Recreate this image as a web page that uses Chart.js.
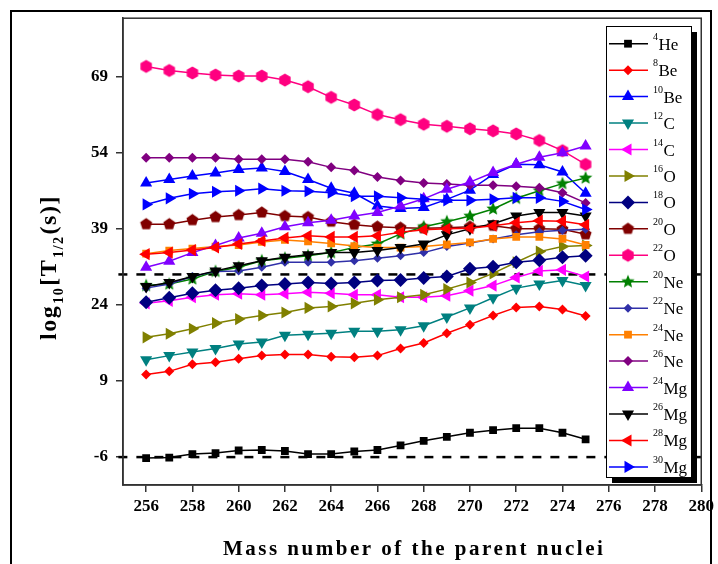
<!DOCTYPE html>
<html>
<head>
<meta charset="utf-8">
<script src="https://cdn.jsdelivr.net/npm/chart.js@4.4.1/dist/chart.umd.min.js"></script>
<style>
  html, body { margin: 0; padding: 0; background: #fff; }
  #wrap { width: 718px; height: 564px; position: relative; }
</style>
</head>
<body>
<div id="wrap"><canvas id="chart"></canvas></div>
<script>
// ---- data ----
const masses = [256, 257, 258, 259, 260, 261, 262, 263, 264, 265, 266, 267, 268, 269, 270, 271, 272, 273, 274, 275];
const xTicks = [256, 258, 260, 262, 264, 266, 268, 270, 272, 274, 276, 278, 280];
const yTicks = [-6, 9, 24, 39, 54, 69];

const he4  = [-6.2, -6.1, -5.4, -5.2, -4.7, -4.6, -4.8, -5.4, -5.4, -4.9, -4.6, -3.7, -2.8, -2.0, -1.2, -0.7, -0.3, -0.3, -1.2, -2.5];
const be8  = [10.3, 10.9, 12.3, 12.7, 13.4, 14.0, 14.2, 14.2, 13.8, 13.7, 14.0, 15.4, 16.5, 18.4, 20.1, 21.9, 23.5, 23.7, 23.1, 21.8];
const be10 = [48.0, 48.7, 49.4, 50.0, 50.7, 51.0, 50.3, 48.7, 47.0, 46.0, 43.5, 43.0, 43.2, 44.8, 46.6, 49.7, 51.7, 51.6, 50.2, 46.0];
const c12  = [13.2, 14.0, 14.7, 15.4, 16.3, 16.7, 18.0, 18.2, 18.4, 18.8, 18.8, 19.1, 19.9, 21.6, 23.4, 25.4, 27.3, 28.1, 28.8, 27.8];
const c14  = [24.3, 24.8, 25.5, 26.0, 26.2, 26.0, 26.2, 26.5, 26.3, 26.0, 26.0, 25.5, 25.5, 25.8, 26.8, 27.8, 29.4, 30.7, 30.9, 29.6];
const o16  = [17.6, 18.3, 19.3, 20.4, 21.2, 21.9, 22.5, 23.4, 23.7, 24.3, 25.0, 25.5, 26.0, 27.1, 28.4, 30.2, 32.4, 34.5, 35.5, 35.7];
const o18  = [24.5, 25.4, 26.3, 26.9, 27.3, 27.8, 28.1, 28.4, 28.2, 28.4, 28.8, 28.9, 29.3, 29.6, 31.1, 31.5, 32.4, 32.8, 33.4, 33.7];
const o20  = [39.9, 39.9, 40.7, 41.3, 41.7, 42.2, 41.5, 41.3, 40.4, 39.8, 39.4, 39.2, 39.1, 39.2, 39.4, 39.6, 39.0, 39.0, 38.9, 37.9];
const o22  = [71.0, 70.2, 69.7, 69.3, 69.1, 69.1, 68.3, 67.0, 64.9, 63.4, 61.5, 60.5, 59.6, 59.2, 58.7, 58.3, 57.7, 56.4, 54.4, 51.7];
const ne20 = [27.8, 28.1, 29.1, 30.6, 31.4, 32.7, 33.2, 33.7, 34.3, 35.3, 36.0, 38.0, 39.4, 40.4, 41.5, 42.9, 45.0, 46.5, 47.9, 49.0];
const ne22 = [27.3, 28.1, 29.6, 30.6, 30.7, 31.4, 32.4, 32.4, 32.4, 32.7, 33.2, 33.7, 34.3, 35.5, 36.2, 37.0, 37.8, 38.4, 38.7, 38.9];
const ne24 = [34.1, 34.7, 35.1, 35.5, 35.8, 36.4, 36.8, 36.5, 36.1, 35.6, 35.3, 35.3, 35.5, 35.9, 36.3, 37.0, 37.4, 37.4, 37.0, 35.8];
const ne26 = [53.0, 53.0, 53.0, 53.0, 52.7, 52.7, 52.7, 52.2, 51.1, 50.5, 49.2, 48.5, 48.0, 47.8, 47.6, 47.6, 47.4, 47.1, 46.1, 44.1];
const mg24 = [31.4, 32.6, 34.3, 35.7, 37.2, 38.1, 39.4, 40.2, 40.7, 41.5, 42.2, 43.5, 44.9, 46.8, 48.2, 50.1, 51.7, 53.1, 54.0, 55.3];
const mg26 = [27.6, 28.4, 29.6, 30.7, 31.7, 32.7, 33.4, 33.9, 34.3, 34.3, 34.7, 35.3, 36.0, 37.8, 39.0, 40.0, 41.5, 42.2, 42.2, 41.5];
const mg28 = [34.0, 34.3, 34.8, 35.3, 36.0, 36.6, 37.2, 37.6, 37.4, 37.4, 37.6, 38.3, 38.8, 39.0, 39.1, 39.6, 40.2, 40.6, 40.5, 39.8];
const mg30 = [43.8, 45.0, 45.9, 46.3, 46.5, 46.9, 46.5, 46.4, 46.1, 45.4, 45.4, 45.1, 44.8, 44.6, 44.6, 44.8, 45.1, 45.1, 44.4, 42.8];

const isotopeMass = ['4', '8', '10', '12', '14', '16', '18', '20', '22', '20', '22', '24', '26', '24', '26', '28', '30'];
const isotopeSym  = ['He', 'Be', 'Be', 'C', 'C', 'O', 'O', 'O', 'O', 'Ne', 'Ne', 'Ne', 'Ne', 'Mg', 'Mg', 'Mg', 'Mg'];

// dashed reference lines
const refX = [254.8, 280];
const refUpper = [30, 30];
const refLower = [-6, -6];

// ---- styles ----
const series = [he4, be8, be10, c12, c14, o16, o18, o20, o22, ne20, ne22, ne24, ne26, mg24, mg26, mg28, mg30];
const colors = ['#000000', '#ff0000', '#0000ff', '#008080', '#ff00ff', '#808000', '#000080', '#800000', '#ff0080',
                '#008000', '#3030a8', '#ff8000', '#800080', '#8000ff', '#000000', '#ff0000', '#0000ff'];

function shapeCanvas(kind, color, r) {
    const c = document.createElement('canvas');
    const s = Math.ceil(r * 2 + 2);
    c.width = s; c.height = s;
    const g = c.getContext('2d');
    g.fillStyle = color;
    g.beginPath();
    const cx = s / 2, cy = s / 2;
    if (kind === 'star') {
        for (let i = 0; i < 10; i++) {
            const rr = i % 2 ? r * 0.45 : r;
            const an = -Math.PI / 2 + i * Math.PI / 5;
            g.lineTo(cx + rr * Math.cos(an), cy + rr * Math.sin(an));
        }
    } else {
        const n = kind === 'hex' ? 6 : 5;
        for (let i = 0; i < n; i++) {
            const an = -Math.PI / 2 + i * 2 * Math.PI / n;
            g.lineTo(cx + r * Math.cos(an), cy + r * Math.sin(an));
        }
    }
    g.closePath();
    g.fill();
    return c;
}

// [pointStyle, rotation, radius]
const markers = [
    ['rect', 0, 5.5], ['rectRot', 0, 5], ['triangle', 0, 7], ['triangle', 180, 7], ['triangle', -90, 7],
    ['triangle', 90, 7], ['rectRot', 0, 7], [shapeCanvas('pent', colors[7], 6.3), 0, 6], [shapeCanvas('hex', colors[8], 6.6), 0, 6],
    [shapeCanvas('star', colors[9], 7), 0, 6], ['rectRot', 0, 4.5], ['rect', 0, 5.5], ['rectRot', 0, 5],
    ['triangle', 0, 7], ['triangle', 180, 7], ['triangle', -90, 7], ['triangle', 90, 7]
];

const datasets = series.map((vals, i) => ({
    data: masses.map((m, j) => ({ x: m, y: vals[j] })),
    showLine: true,
    borderColor: colors[i],
    backgroundColor: colors[i],
    borderWidth: 1.5,
    pointStyle: markers[i][0],
    pointRotation: markers[i][1],
    pointRadius: markers[i][2],
    pointBorderWidth: 0,
    order: 100 - i
}));

[refUpper, refLower].forEach(vals => datasets.push({
    data: refX.map((x, j) => ({ x: x, y: vals[j] })),
    showLine: true,
    borderColor: '#000',
    borderWidth: 2.5,
    borderDash: [9, 9],
    pointRadius: 0,
    clip: false,
    order: 200
}));

function drawMarker(ctx, m, color, x, y) {
    const [style, rot, r] = m;
    ctx.save();
    ctx.fillStyle = color;
    ctx.translate(x, y);
    if (typeof style !== 'string') {
        ctx.drawImage(style, -style.width / 2, -style.height / 2);
    } else if (style === 'rect') {
        const s = r * Math.SQRT1_2;
        ctx.fillRect(-s, -s, 2 * s, 2 * s);
    } else {
        ctx.rotate(rot * Math.PI / 180);
        ctx.beginPath();
        if (style === 'rectRot') {
            ctx.moveTo(0, -r); ctx.lineTo(r, 0); ctx.lineTo(0, r); ctx.lineTo(-r, 0);
        } else {
            for (let k = 0; k < 3; k++) {
                const an = k * 2 * Math.PI / 3;
                ctx.lineTo(Math.sin(an) * r, -Math.cos(an) * r);
            }
        }
        ctx.closePath();
        ctx.fill();
    }
    ctx.restore();
}

const decor = {
    id: 'decor',
    afterDraw(chart) {
        const ctx = chart.ctx, a = chart.chartArea;
        ctx.save();
        // plot frame
        ctx.strokeStyle = '#333'; ctx.lineWidth = 1.5;
        ctx.strokeRect(a.left, a.top, a.right - a.left, a.bottom - a.top);
        // outer border
        ctx.strokeStyle = '#000'; ctx.lineWidth = 2;
        ctx.strokeRect(11, 11, 700, 570);

        // legend box with shadow
        const bx = 606, by = 26, bw = 85, bh = 451;
        ctx.fillStyle = '#000';
        ctx.fillRect(bx + 6, by + 6, bw, bh);
        ctx.fillStyle = '#fff';
        ctx.fillRect(bx, by, bw, bh);
        ctx.strokeStyle = '#000'; ctx.lineWidth = 1;
        ctx.strokeRect(bx + 0.5, by + 0.5, bw, bh);

        series.forEach((vals, i) => {
            const y = 43.7 + i * 26.45;
            ctx.strokeStyle = colors[i]; ctx.lineWidth = 1.5;
            ctx.beginPath(); ctx.moveTo(609, y); ctx.lineTo(648, y); ctx.stroke();
            drawMarker(ctx, markers[i], colors[i], 628, y);
            ctx.fillStyle = '#000';
            ctx.textAlign = 'left'; ctx.textBaseline = 'alphabetic';
            ctx.font = '10px "Liberation Serif"';
            ctx.fillText(isotopeMass[i], 653, y - 4);
            const w = ctx.measureText(isotopeMass[i]).width;
            ctx.font = '17px "Liberation Serif"';
            ctx.fillText(isotopeSym[i], 653 + w + 0.5, y + 6);
        });

        // y axis title: log10[T1/2(s)]
        ctx.save();
        ctx.translate(56, 340);
        ctx.rotate(-Math.PI / 2);
        ctx.fillStyle = '#000';
        ctx.textAlign = 'left'; ctx.textBaseline = 'alphabetic';
        ctx.letterSpacing = '1.5px';
        const big = 'bold 24px "Liberation Serif"', small = 'bold 14px "Liberation Serif"';
        const parts = [['log', big, 0], ['10', small, 7], ['[T', big, 0], ['1/2', small, 7], ['(s)]', big, 0]];
        let px = 0;
        parts.forEach(([t, f, dy]) => {
            ctx.font = f;
            ctx.fillText(t, px, dy);
            px += ctx.measureText(t).width + 1;
        });
        ctx.letterSpacing = '0px';
        ctx.restore();

        // x axis title
        ctx.fillStyle = '#000';
        ctx.font = 'bold 21px "Liberation Serif"';
        ctx.letterSpacing = '2.5px';
        ctx.textAlign = 'center';
        ctx.fillText('Mass number of the parent nuclei', (a.left + a.right) / 2 + 2, 555);
        ctx.letterSpacing = '0px';
        ctx.restore();
    }
};

const tickFont = { family: '"Liberation Serif"', size: 17, weight: 'bold' };

new Chart(document.getElementById('chart'), {
    type: 'scatter',
    data: { datasets: datasets },
    options: {
        responsive: true,
        maintainAspectRatio: false,
        animation: false,
        layout: { padding: { top: 17, right: 13, left: 0, bottom: 0 } },
        plugins: { legend: { display: false }, tooltip: { enabled: false } },
        scales: {
            x: {
                type: 'linear', min: 255, max: 280,
                afterBuildTicks: s => { s.ticks = xTicks.map(v => ({ value: v })); },
                afterFit: s => { s.height = 79; },
                grid: { drawOnChartArea: false, drawTicks: true, tickLength: 7, color: '#333', lineWidth: 1.5 },
                border: { display: true, color: '#333', width: 1.5 },
                ticks: { color: '#000', font: tickFont, padding: 4, maxRotation: 0, autoSkip: false }
            },
            y: {
                type: 'linear', min: -11.5, max: 80.5,
                afterBuildTicks: s => { s.ticks = yTicks.map(v => ({ value: v })); },
                afterFit: s => { s.width = 123; },
                grid: { drawOnChartArea: false, drawTicks: true, tickLength: 7, color: '#333', lineWidth: 1.5 },
                border: { display: true, color: '#333', width: 1.5 },
                ticks: { color: '#000', font: tickFont, padding: 8, autoSkip: false }
            }
        }
    },
    plugins: [decor]
});
</script>
</body>
</html>
